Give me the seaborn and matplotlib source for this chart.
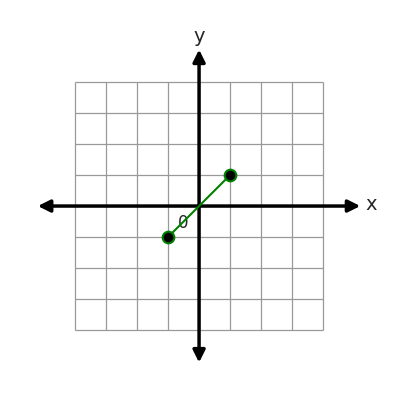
import numpy as np
import pandas as pd
import matplotlib
matplotlib.use("Agg")
import matplotlib.pyplot as plt
import seaborn as sns

# segment endpoints
seg_x = [-1, 1]
seg_y = [-1, 1]
grid_ticks = list(range(-4, 5))


def main():
    sns.set_style("white")
    fig = plt.figure(figsize=(4, 4), dpi=100)
    ax = fig.add_axes([0, 0, 1, 1])
    ax.set_xlim(-6.42, 6.48)
    ax.set_ylim(-6.26, 6.65)
    ax.axis("off")

    # grid
    ax.vlines(grid_ticks, -4, 4, color="#999999", lw=0.9, zorder=1)
    ax.hlines(grid_ticks, -4, 4, color="#999999", lw=0.9, zorder=1)

    # axes with arrows
    arrow = dict(arrowstyle="<|-|>", color="black", lw=2.5, mutation_scale=18,
                 shrinkA=0, shrinkB=0)
    ax.annotate("", xy=(5.2, 0), xytext=(-5.2, 0), arrowprops=arrow, zorder=2)
    ax.annotate("", xy=(0, 5.05), xytext=(0, -5.05), arrowprops=arrow, zorder=2)
    ax.text(5.35, 0.05, "x", fontsize=14, va="center", ha="left")
    ax.text(0, 5.15, "y", fontsize=14, va="bottom", ha="center")
    ax.text(-0.5, -0.55, "0", fontsize=12, ha="center", va="center")

    df = pd.DataFrame({"x": seg_x, "y": seg_y})
    sns.lineplot(data=df, x="x", y="y", ax=ax, color="green", lw=1.5, zorder=3)
    sns.scatterplot(data=df, x="x", y="y", ax=ax, s=70, color="black",
                    edgecolor="green", linewidth=1.5, zorder=4)
    ax.set_xlim(-6.42, 6.48)
    ax.set_ylim(-6.26, 6.65)
    ax.axis("off")
    fig.savefig("out.png", dpi=100)


if __name__ == "__main__":
    main()
